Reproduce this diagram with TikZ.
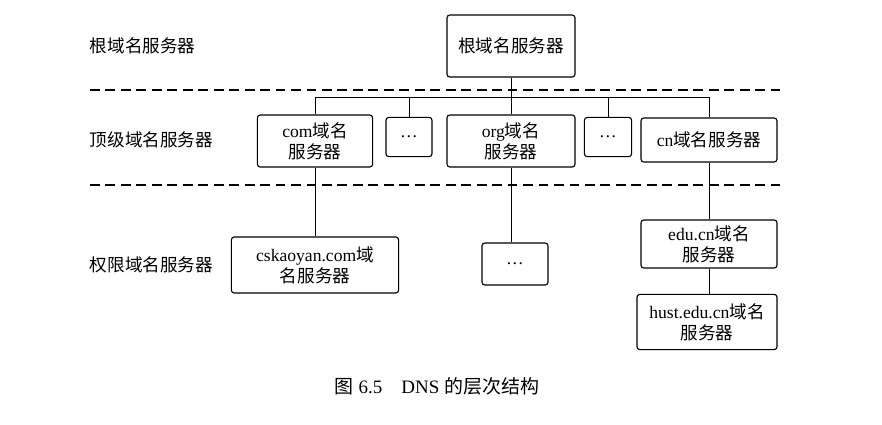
\documentclass[tikz,border=0pt]{standalone}
\usepackage{fontspec}
\setmainfont{Liberation Serif}
\newfontfamily\cjk{Noto Sans CJK SC}
\newcommand{\zh}[1]{{\cjk #1}}
\usetikzlibrary{positioning}
\tikzset{
  srv/.style={draw,thick,rounded corners=2pt,align=center,font=\fontsize{12.5}{15}\selectfont,inner sep=2pt},
  lvl/.style={anchor=west,font=\fontsize{12.5}{15}\selectfont},
  sep/.style={dashed,thick,dash pattern=on 7pt off 4pt}
}
\begin{document}
\begin{tikzpicture}[x=0.025cm,y=-0.025cm]
\useasboundingbox (0,0) rectangle (882,424);
% level labels
\node[lvl] (l1) at (85,46) {\zh{根域名服务器}};
\node[lvl] (l2) at (85,140) {\zh{顶级域名服务器}};
\node[lvl] (l3) at (85,265) {\zh{权限域名服务器}};
\draw[sep] (90,90) -- (785,90);
\draw[sep] (90,185) -- (785,185);
% root
\node[srv,minimum width=3.2cm,minimum height=1.55cm] (root) at (511,46) {\zh{根域名服务器}};
% top level
\node[srv,minimum width=2.88cm,minimum height=1.3cm] (com) at (315,141) {com\zh{域名}\\\zh{服务器}};
\node[srv,minimum width=1.15cm,minimum height=0.98cm] (d1) at (409,137) {\dots};
\node[srv,minimum width=3.2cm,minimum height=1.3cm] (org) at (511,141) {org\zh{域名}\\\zh{服务器}};
\node[srv,minimum width=1.18cm,minimum height=0.98cm] (d2) at (608,137) {\dots};
\node[srv,minimum width=3.4cm,minimum height=1.1cm] (cn) at (709,140) {cn\zh{域名服务器}};
% authoritative
\node[srv,minimum width=4.18cm,minimum height=1.4cm] (csk) at (315,265) {cskaoyan.com\zh{域}\\\zh{名服务器}};
\node[srv,minimum width=1.65cm,minimum height=1.05cm] (d3) at (515,264) {\dots};
\node[srv,minimum width=3.4cm,minimum height=1.2cm] (edu) at (709,244) {edu.cn\zh{域名}\\\zh{服务器}};
\node[srv,minimum width=3.5cm,minimum height=1.38cm] (hust) at (707,322) {hust.edu.cn\zh{域名}\\\zh{服务器}};
% tree
\coordinate (bus) at (511,97);
\draw (root.south) -- (bus);
\draw (com.north |- bus) -- (cn.north |- bus);
\foreach \n in {com,d1,org,d2,cn} \draw (\n.north |- bus) -- (\n.north);
\draw (com) -- (csk);
\draw (org.south) -- (org.south |- d3.north);
\draw (cn) -- (edu);
\draw (edu.south) -- (edu.south |- hust.north);
% caption
\node[font=\fontsize{13.5}{15}\selectfont] (cap) at (437,386) {\zh{图} 6.5\quad DNS \zh{的层次结构}};
\end{tikzpicture}
\end{document}
